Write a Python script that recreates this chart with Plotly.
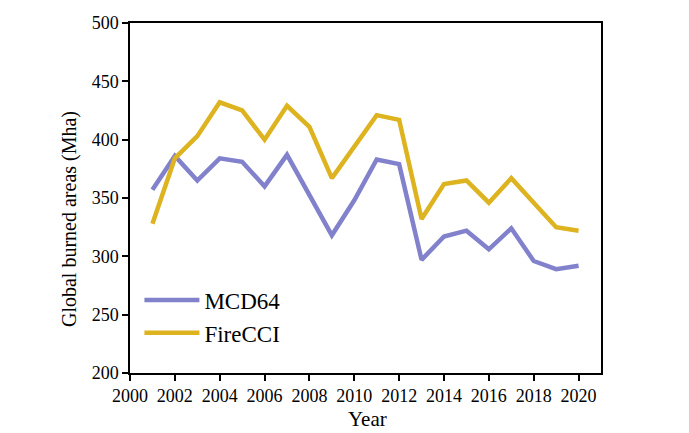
import plotly.graph_objects as go

# Annual global burned area estimates (Mha) from two satellite products
years = list(range(2001, 2021))
mcd64 = [357, 386, 365, 384, 381, 360, 387, 353, 318, 348,
         383, 379, 297, 317, 322, 306, 324, 296, 289, 292]
firecci = [328, 384, 403, 432, 425, 400, 429, 411, 367, 394,
           421, 417, 332, 362, 365, 346, 367, 346, 325, 322]

x_ticks = list(range(2000, 2021, 2))
y_ticks = list(range(200, 501, 50))

FONT = "Liberation Serif, Times New Roman, serif"

fig = go.Figure()
fig.add_trace(go.Scatter(x=years, y=mcd64, mode="lines", name="MCD64",
                         line=dict(color="#8181CC", width=4.5)))
fig.add_trace(go.Scatter(x=years, y=firecci, mode="lines", name="FireCCI",
                         line=dict(color="#DDB320", width=4.5)))

axis_common = dict(showgrid=False, zeroline=False, showline=True,
                   linecolor="black", linewidth=1.5, mirror=True,
                   ticks="outside", ticklen=6, tickwidth=1.5, tickcolor="black",
                   tickfont=dict(family=FONT, size=18, color="black"))

fig.update_xaxes(range=[2000, 2021], tickvals=x_ticks, **axis_common)
fig.update_yaxes(range=[200, 500], tickvals=y_ticks, **axis_common)

fig.add_annotation(text="Year", xref="paper", yref="paper", x=0.504, y=-0.1714,
                   xanchor="center", yanchor="bottom", showarrow=False,
                   font=dict(family=FONT, size=21, color="black"))
fig.add_annotation(text="Global burned areas (Mha)", xref="paper", yref="paper",
                   x=-0.1295, y=0.44, xanchor="center", yanchor="middle",
                   textangle=-90, showarrow=False,
                   font=dict(family=FONT, size=20, color="black"))

fig.update_layout(
    width=689, height=433,
    margin=dict(l=130, r=88, t=23, b=60),
    paper_bgcolor="white", plot_bgcolor="white",
    showlegend=True,
    legend=dict(x=0.02, y=0.27, xanchor="left", yanchor="top",
                itemwidth=55, bgcolor="rgba(0,0,0,0)", tracegroupgap=0,
                font=dict(family=FONT, size=23, color="black")),
)

fig.write_html("out.html")
